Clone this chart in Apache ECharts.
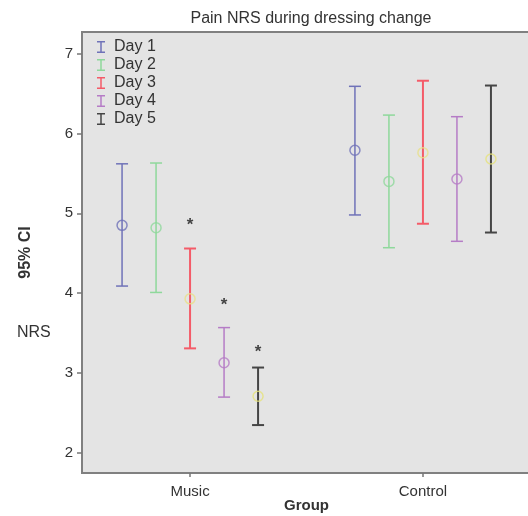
<!DOCTYPE html>
<html>
<head>
<meta charset="utf-8">
<script src="https://cdn.jsdelivr.net/npm/echarts@6/dist/echarts.min.js"></script>
<style>
html, body { margin: 0; padding: 0; background: #fff; }
#chart { width: 528px; height: 516px; }
</style>
</head>
<body>
<div id="chart"></div>
<script>
// groups on the x axis (value 1 = Music, 2 = Control)
var groups = ["Music", "Control"];
var days = ["Day 1", "Day 2", "Day 3", "Day 4", "Day 5"];
// 95% CI per day: [Music, Control]
var lower = [[4.09, 4.98], [4.01, 4.57], [3.31, 4.87], [2.70, 4.65], [2.35, 4.76]];
var means = [[4.85, 5.79], [4.82, 5.40], [3.93, 5.76], [3.13, 5.43], [2.71, 5.68]];
var upper = [[5.62, 6.59], [5.63, 6.23], [4.56, 6.66], [3.57, 6.21], [3.07, 6.60]];
// asterisks: [group index, day index, value]
var stars = [[0, 2, 4.90], [0, 3, 3.90], [0, 4, 3.31]];
var yTicks = [2, 3, 4, 5, 6, 7];
var xTicks = [1, 2];

var FONT = "'Liberation Sans', Arial, sans-serif";
var dayColors = ["#6f72b8", "#8ed89b", "#f45b68", "#b57cc6", "#454545"];
var meanColors = ["#6f72b8", "#8ed89b", "#e8e08a", "#b57cc6", "#e6e27a"];
var lineWidths = [1.5, 1.5, 2, 1.5, 2];
var dayStep = 0.146;

function xPos(g, d) {
	return g + 1 + (d - 2) * dayStep;
}

var series = [];
days.forEach(function (name, d) {
	var barData = [];
	var meanData = [];
	for (var g = 0; g < groups.length; g++) {
		barData.push([xPos(g, d), lower[d][g], upper[d][g]]);
		meanData.push([xPos(g, d), means[d][g]]);
	}
	//误差线
	series.push({
		name: name,
		type: "custom",
		itemStyle: { color: dayColors[d] },
		data: barData,
		z: 2,
		renderItem: function (params, api) {
			var lo = api.coord([api.value(0), api.value(1)]);
			var hi = api.coord([api.value(0), api.value(2)]);
			var st = { stroke: dayColors[d], lineWidth: lineWidths[d] };
			return {
				type: "group",
				children: [
					{ type: "line", shape: { x1: lo[0], y1: lo[1], x2: hi[0], y2: hi[1] }, style: st },
					{ type: "line", shape: { x1: lo[0] - 6, y1: lo[1], x2: lo[0] + 6, y2: lo[1] }, style: st },
					{ type: "line", shape: { x1: hi[0] - 6, y1: hi[1], x2: hi[0] + 6, y2: hi[1] }, style: st },
				],
			};
		},
	});
	//均值
	series.push({
		name: name + " mean",
		type: "scatter",
		symbol: "circle",
		symbolSize: 10,
		itemStyle: { color: "rgba(0,0,0,0)", borderColor: meanColors[d], borderWidth: 1.5 },
		data: meanData,
		z: 3,
		silent: true,
	});
});

series.push({
	name: "stars",
	type: "custom",
	data: stars.map(function (s) { return [xPos(s[0], s[1]), s[2]]; }),
	renderItem: function (params, api) {
		var p = api.coord([api.value(0), api.value(1)]);
		return {
			type: "text",
			x: p[0],
			y: p[1] + 4,
			style: { text: "*", font: "bold 17px " + FONT, fill: "#444", align: "center", verticalAlign: "middle" },
		};
	},
});

var chart = echarts.init(document.getElementById("chart"));
chart.setOption({
	animation: false,
	title: {
		text: "Pain NRS during dressing change",
		left: 306,
		textAlign: "center",
		top: 6,
		textStyle: { fontFamily: FONT, fontSize: 16, fontWeight: "normal", color: "#333" },
	},
	legend: {
		orient: "vertical",
		left: 92,
		top: 34,
		itemWidth: 8,
		itemHeight: 12,
		itemGap: 2,
		textStyle: { fontFamily: FONT, fontSize: 16, lineHeight: 16, color: "#333", padding: [0, 0, 0, 4] },
		data: days.map(function (n) {
			return { name: n, icon: "path://M0,0H8V1.5H4.75V10.5H8V12H0V10.5H3.25V1.5H0Z" };
		}),
	},
	grid: {
		left: 82,
		top: 32,
		width: 449,
		height: 441,
		outerBoundsMode: "none",
		show: true,
		backgroundColor: "#e4e4e4",
		borderColor: "#808080",
		borderWidth: 2,
	},
	xAxis: {
		type: "value",
		min: 0.536,
		max: 2.464,
		name: "Group",
		nameLocation: "middle",
		nameGap: 25,
		nameMoveOverlap: false,
		nameTextStyle: { fontFamily: FONT, fontSize: 15, fontWeight: "bold", color: "#333" },
		splitLine: { show: false },
		axisLine: { show: false },
		axisTick: { show: true, customValues: xTicks, length: 4, lineStyle: { color: "#777", width: 1.5 } },
		axisLabel: {
			customValues: xTicks,
			margin: 11,
			fontFamily: FONT,
			fontSize: 15,
			color: "#333",
			formatter: function (v) { return groups[Math.round(v) - 1]; },
		},
	},
	yAxis: {
		type: "value",
		min: 1.75,
		max: 7.27,
		name: "95% CI",
		nameLocation: "middle",
		nameRotate: 90,
		nameGap: 48,
		nameMoveOverlap: false,
		nameTextStyle: { fontFamily: FONT, fontSize: 16, fontWeight: "bold", color: "#333" },
		splitLine: { show: false },
		axisLine: { show: false },
		axisTick: { show: true, customValues: yTicks, length: 5, lineStyle: { color: "#777", width: 1.5 } },
		axisLabel: { customValues: yTicks, margin: 9, fontFamily: FONT, fontSize: 15, color: "#333" },
	},
	graphic: [
		{
			type: "text",
			left: 17,
			top: 325,
			style: { text: "NRS", font: "16px " + FONT, fill: "#333" },
		},
	],
	series: series,
});
</script>
</body>
</html>
